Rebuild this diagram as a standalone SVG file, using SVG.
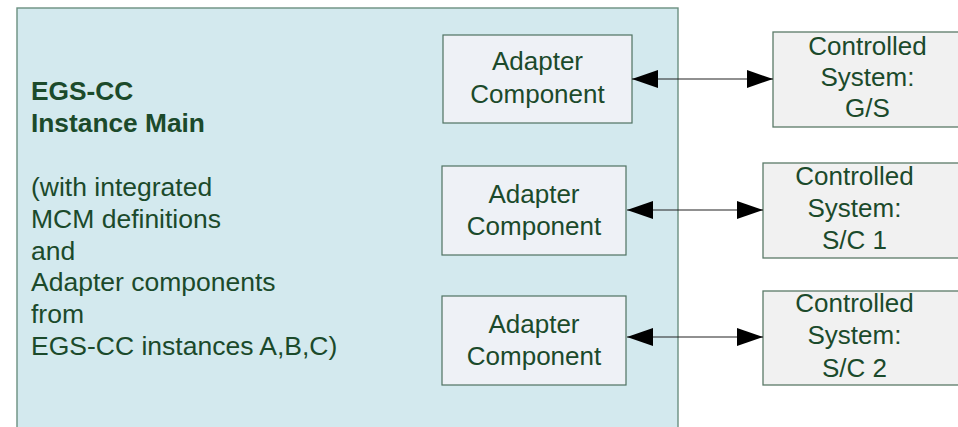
<svg xmlns="http://www.w3.org/2000/svg" width="958" height="427" viewBox="0 0 958 427">
<style>
text{font-family:"Liberation Sans",Arial,sans-serif;font-size:26px;fill:#1b4a2b}
.m{font-size:26.5px}
.b{font-weight:bold;font-size:26.3px}
.c{text-anchor:middle}
.main{fill:#d3e9ee;stroke:#6b8f80;stroke-width:1.4}
.ad{fill:#eef1f6;stroke:#4f7262;stroke-width:1.2}
.cs{fill:#f1f1f1;stroke:#5b7a68;stroke-width:1.3}
.ln{stroke:#222;stroke-width:1.2;fill:none;marker-start:url(#ah);marker-end:url(#ah)}
</style>
<defs>
<marker id="ah" viewBox="0 0 26 18" refX="26" refY="9" markerWidth="26" markerHeight="18" markerUnits="userSpaceOnUse" orient="auto-start-reverse">
<path d="M0,0 L26,9 L0,18 Z" fill="#000"/>
</marker>
</defs>
<rect width="958" height="427" fill="#fff"/>
<g id="main">
<rect class="main" x="17" y="8" width="661" height="440"/>
<text class="b" x="31" y="100">EGS-CC</text>
<text class="b" x="31" y="132">Instance Main</text>
<text class="m" x="31" y="196">(with integrated</text>
<text class="m" x="31" y="228">MCM definitions</text>
<text class="m" x="31" y="260">and</text>
<text class="m" x="31" y="291">Adapter components</text>
<text class="m" x="31" y="323">from</text>
<text class="m" x="31" y="355">EGS-CC instances A,B,C)</text>
</g>
<g id="adapter1">
<rect class="ad" x="443" y="35" width="189" height="88"/>
<text class="c" x="537.5" y="70">Adapter</text>
<text class="c" x="537.5" y="103">Component</text>
</g>
<g id="adapter2">
<rect class="ad" x="442" y="166" width="184" height="89"/>
<text class="c" x="534" y="203">Adapter</text>
<text class="c" x="534" y="235">Component</text>
</g>
<g id="adapter3">
<rect class="ad" x="442" y="296" width="184" height="89"/>
<text class="c" x="534" y="333">Adapter</text>
<text class="c" x="534" y="365">Component</text>
</g>
<g id="cs1">
<rect class="cs" x="773" y="32" width="190" height="95"/>
<text class="c" x="867.5" y="55">Controlled</text>
<text class="c" x="867.5" y="86">System:</text>
<text class="c" x="867.5" y="117">G/S</text>
</g>
<g id="cs2">
<rect class="cs" x="763" y="163" width="200" height="95"/>
<text class="c" x="854.5" y="185">Controlled</text>
<text class="c" x="854.5" y="217">System:</text>
<text class="c" x="854.5" y="249">S/C 1</text>
</g>
<g id="cs3">
<rect class="cs" x="763" y="291" width="200" height="94"/>
<text class="c" x="854.5" y="312">Controlled</text>
<text class="c" x="854.5" y="344">System:</text>
<text class="c" x="854.5" y="377">S/C 2</text>
</g>
<g id="connectors">
<line class="ln" x1="632" y1="79" x2="773" y2="79"/>
<line class="ln" x1="627" y1="210" x2="763" y2="210"/>
<line class="ln" x1="627" y1="337" x2="763" y2="337"/>
</g>
</svg>
